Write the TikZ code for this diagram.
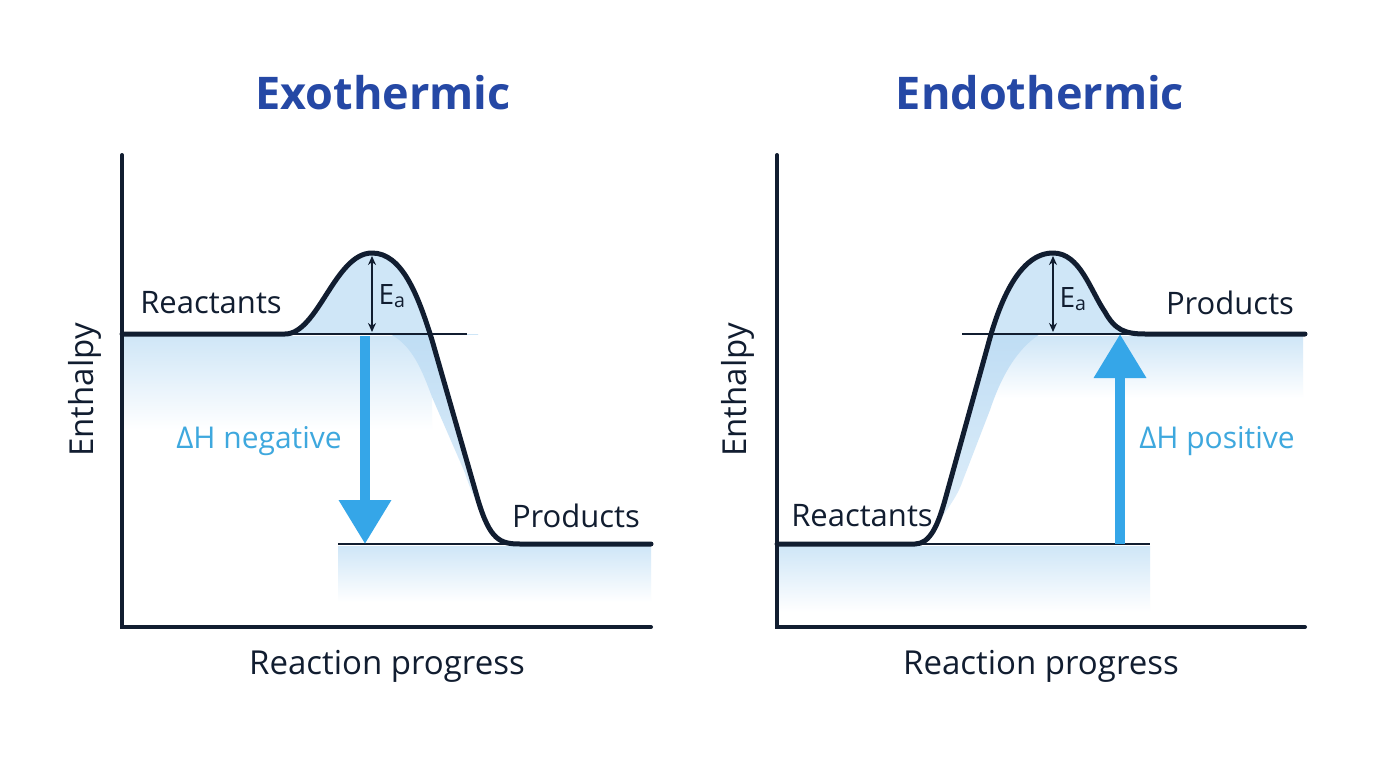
\documentclass[tikz,border=0pt]{standalone}
\usepackage{fontspec}
\setmainfont{Open Sans}
\usetikzlibrary{arrows.meta}
\definecolor{navy}{HTML}{111D30}
\definecolor{titleblue}{HTML}{2548A5}
\definecolor{arrowblue}{HTML}{35A6E8}
\definecolor{dhblue}{HTML}{3EA8DE}
\definecolor{humpc}{HTML}{CFE6F7}
\definecolor{shadowc}{HTML}{BFDDF4}
\tikzset{
  axisline/.style={navy, line width=4pt, line cap=round},
  curveline/.style={navy, line width=5pt, line cap=round, line join=round},
  thinline/.style={navy, line width=1.8pt},
  eaarrow/.style={navy, line width=1.6pt, {Stealth[length=9pt,width=8pt]}-{Stealth[length=9pt,width=8pt]}},
  dharrow/.style={arrowblue, line width=10pt, -{Triangle[length=44pt,width=50pt]}},
  titletext/.style={font=\fontsize{45}{50}\selectfont\bfseries, text=titleblue},
  axistext/.style={font=\fontsize{33}{38}\selectfont, text=navy},
  leveltext/.style={font=\fontsize{31}{36}\selectfont, text=navy},
  dhtext/.style={font=\fontsize{30}{34}\selectfont, text=dhblue},
  eatext/.style={font=\fontsize{28}{32}\selectfont, text=navy},
}
\begin{document}
\begin{tikzpicture}[x=1pt,y=-1pt]
\useasboundingbox (0,0) rectangle (1376,768);
\fill[white] (0,0) rectangle (1376,768);

% ================= EXOTHERMIC =================
\shade[top color=humpc, bottom color=white] (124,336) rectangle (432,430);
\shade[top color=humpc, bottom color=white] (338,546) rectangle (651,602);
\begin{scope}
\clip (0,0) rectangle (1376,334);
\fill[humpc] (285,334) .. controls (318,334) and (335,253) .. (372,253)
  .. controls (402,253) and (418,295) .. (432,340) -- (478,500) -- (478,334) -- cycle;
\end{scope}
\shade[top color=shadowc, bottom color=shadowc!50!white]
  (390,334) .. controls (412,345) and (422,370) .. (432,397) -- (465,473)
  .. controls (472,495) and (478,505) .. (486,518) -- (478,500) -- (432,340) -- (432,334) -- cycle;

\coordinate (exoY) at (122,155);
\coordinate (exoO) at (122,627);
\coordinate (exoX) at (651,627);
\coordinate (exoRs) at (122,334);
\coordinate (exoRe) at (285,334);
\coordinate (exoTs) at (285,334);
\coordinate (exoTe) at (467,334);
\coordinate (exoPs) at (338,544);
\coordinate (exoPe) at (651,544);
\coordinate (exoPk) at (372,256);
\coordinate (exoPb) at (372,332);
\coordinate (exoAs) at (365,336);
\coordinate (exoAe) at (365,544);

\draw[thinline] (exoTs) -- (exoTe);
\draw[thinline] (exoPs) -- (520,544);
\draw[dharrow] (exoAs) -- (exoAe);
\draw[axisline] (exoY) -- (exoO) -- (exoX);
\draw[curveline] (exoRs) -- (exoRe) .. controls (318,334) and (335,253) .. (372,253)
  .. controls (402,253) and (418,295) .. (432,340) -- (478,500)
  .. controls (490,540) and (500,544) .. (520,544) -- (exoPe);
\draw[eaarrow] (exoPk) -- (exoPb);
\node[eatext, anchor=west] (exoEa) at (375,296) {E\textsubscript{a}};

\node[titletext] (exoTitle) at (383,93) {Exothermic};
\node[axistext, rotate=90] (exoYl) at (85,390) {Enthalpy};
\node[axistext] (exoXl) at (387,666) {Reaction progress};
\node[leveltext] (exoR) at (211,303) {Reactants};
\node[leveltext] (exoP) at (576,516) {Products};
\node[dhtext] (exoDH) at (259,441) {ΔH negative};

% ================= ENDOTHERMIC =================
\shade[top color=humpc, bottom color=white] (990,336) rectangle (1303,398);
\shade[top color=humpc, bottom color=white] (779,546) rectangle (1150,612);
\begin{scope}
\clip (0,0) rectangle (1376,334);
\fill[humpc] (988,345) .. controls (1000,300) and (1020,253) .. (1053,253)
  .. controls (1080,253) and (1090,290) .. (1105,312)
  .. controls (1115,330) and (1125,334) .. (1145,334) -- (1145,345) -- cycle;
\end{scope}
\shade[top color=shadowc, bottom color=shadowc!50!white]
  (1040,334) .. controls (1015,350) and (1000,380) .. (990,410) -- (963,480)
  .. controls (958,495) and (950,505) .. (940,520) -- (945,500) -- (988,345) -- (991,334) -- cycle;

\coordinate (endY) at (777,155);
\coordinate (endO) at (777,627);
\coordinate (endX) at (1305,627);
\coordinate (endRs) at (777,544);
\coordinate (endRe) at (915,544);
\coordinate (endTs) at (962,334);
\coordinate (endTe) at (1150,334);
\coordinate (endLe) at (1150,544);
\coordinate (endPe) at (1305,334);
\coordinate (endPk) at (1053,256);
\coordinate (endPb) at (1053,332);
\coordinate (endAs) at (1120,544);
\coordinate (endAe) at (1120,334);

\draw[thinline] (endTs) -- (endTe);
\draw[thinline] (endRe) -- (endLe);
\draw[dharrow] (endAs) -- (endAe);
\draw[axisline] (endY) -- (endO) -- (endX);
\draw[curveline] (endRs) -- (endRe) .. controls (930,544) and (938,525) .. (945,500)
  -- (988,345) .. controls (1000,300) and (1020,253) .. (1053,253)
  .. controls (1080,253) and (1090,290) .. (1105,312)
  .. controls (1115,330) and (1125,334) .. (1145,334) -- (endPe);
\draw[eaarrow] (endPk) -- (endPb);
\node[eatext, anchor=west] (endEa) at (1056,299) {E\textsubscript{a}};

\node[titletext] (endTitle) at (1040,93) {Endothermic};
\node[axistext, rotate=90] (endYl) at (738,390) {Enthalpy};
\node[axistext] (endXl) at (1041,666) {Reaction progress};
\node[leveltext] (endR) at (862,516) {Reactants};
\node[leveltext] (endP) at (1230,303) {Products};
\node[dhtext] (endDH) at (1217,441) {ΔH positive};
\end{tikzpicture}
\end{document}
